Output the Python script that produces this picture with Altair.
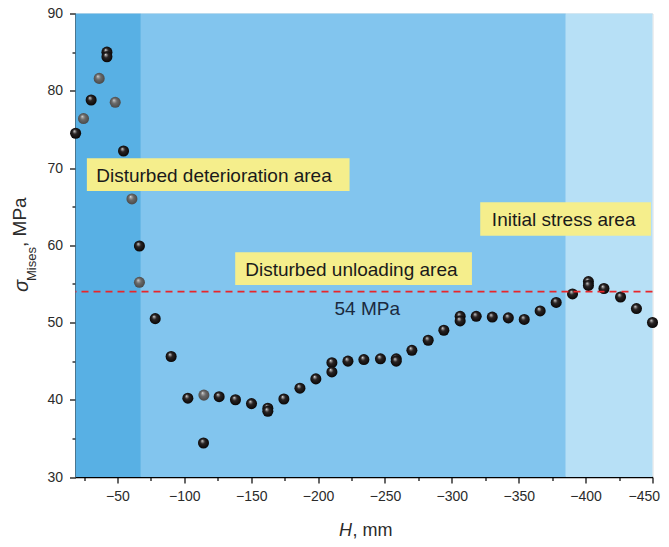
import altair as alt
import pandas as pd

# ---- data ----
H_mm = [-18.7, -24.6, -30.3, -36.3, -42.1, -42.1, -48.3, -54.5, -60.8, -66.4, -66.4,
        -78.2, -90.1, -102.6, -114.6, -114.3, -126.0, -138.2, -150.2, -162.4, -162.4,
        -174.4, -186.4, -198.3, -210.3, -210.3, -222.3, -234.2, -246.6, -258.4, -258.4,
        -270.1, -282.3, -294.0, -306.2, -306.2, -318.2, -330.2, -342.2, -354.1, -366.0,
        -378.0, -390.2, -402.1, -402.1, -413.7, -426.1, -438.0, -450.0]
sigma = [74.5, 76.4, 78.8, 81.6, 85.0, 84.4, 78.5, 72.2, 66.0, 59.9, 55.2,
         50.5, 45.6, 40.2, 40.6, 34.4, 40.4, 40.0, 39.5, 38.9, 38.5,
         40.1, 41.5, 42.7, 44.8, 43.6, 45.0, 45.2, 45.3, 45.3, 45.0,
         46.4, 47.7, 49.0, 50.8, 50.2, 50.8, 50.7, 50.6, 50.4, 51.5,
         52.6, 53.7, 55.3, 54.8, 54.4, 53.3, 51.8, 50.0]
shade = ["black", "gray", "black", "gray", "black", "black", "gray", "black", "gray", "black", "gray",
         "black", "black", "black", "gray", "black", "black", "black", "black", "black", "black",
         "black", "black", "black", "black", "black", "black", "black", "black", "black", "black",
         "black", "black", "black", "black", "black", "black", "black", "black", "black", "black",
         "black", "black", "black", "black", "black", "black", "black", "black"]

band_from = [-18.6, -67.5, -385.2]
band_to = [-67.5, -385.2, -450.0]
band_color = ["#58b0e4", "#82c5ee", "#b7e0f6"]

box_text = ["Disturbed deterioration area", "Disturbed unloading area", "Initial stress area"]
box_x1 = [-27.1, -138.0, -321.2]
box_x2 = [-223.5, -315.0, -448.8]
box_y1 = [71.26, 59.09, 65.56]
box_y2 = [67.02, 54.86, 61.24]
box_tx = [-34.1, -145.5, -329.9]
box_ty = [69.0, 56.85, 63.3]

ref_value = [54]
ref_text = ["54 MPa"]
ref_tx = [-236.7]
ref_ty = [51.03]

x_ticks = [-25 * i for i in range(1, 19)]
y_ticks = [30 + 5 * i for i in range(13)]

FONT = "Liberation Sans, Arial, Helvetica, sans-serif"

# ---- scales / axes ----
xscale = alt.Scale(domain=[-450, -18.6], reverse=True, nice=False, zero=False)
yscale = alt.Scale(domain=[30, 90], nice=False, zero=False)

xaxis = alt.Axis(values=x_ticks, title=None, grid=False,
                 labelExpr="datum.value % 50 === 0 ? datum.label : ''",
                 tickSize={"condition": {"test": "datum.value % 50 === 0", "value": 6}, "value": 3.5},
                 tickColor="black", tickWidth=1.2, domainColor="black", domainWidth=1.5,
                 labelFont=FONT, labelFontSize=14, labelColor="#2b2b2b", labelPadding=6,
                 labelFlush=True, labelFlushOffset=7, labelOverlap=False)
yaxis = alt.Axis(values=y_ticks, title=None, grid=False,
                 labelExpr="datum.value % 10 === 0 ? datum.label : ''",
                 tickSize={"condition": {"test": "datum.value % 10 === 0", "value": 6}, "value": 3.5},
                 tickColor="black", tickWidth=1.2, domainColor="black", domainWidth=1.5,
                 labelFont=FONT, labelFontSize=14, labelColor="#2b2b2b", labelPadding=7,
                 labelFlush=False, labelOverlap=False)


def X(f):
    return alt.X(f, type="quantitative", scale=xscale, axis=xaxis)


def Y(f):
    return alt.Y(f, type="quantitative", scale=yscale, axis=yaxis)


bands_df = pd.DataFrame({"a": band_from, "b": band_to, "c": band_color})
bands = alt.Chart(bands_df).mark_rect(opacity=1).encode(
    x=X("a"), x2="b", y=alt.value(0), y2=alt.value(463.5),
    color=alt.Color("c:N", scale=None))

pts_df = pd.DataFrame({"H": H_mm, "s": sigma, "shade": shade})


def ball(stops):
    return alt.RadialGradient(
        gradient="radial",
        stops=[alt.GradientStop(offset=o, color=c) for o, c in stops],
        x1=0.38, y1=0.3, r1=0.0, x2=0.5, y2=0.5, r2=0.55)


black_ball = ball([(0, "#f4f4f4"), (0.12, "#9c9a9a"), (0.38, "#2a2525"), (1, "#050303")])
gray_ball = ball([(0, "#f0f0f0"), (0.14, "#a8a8a8"), (0.42, "#6a6a6a"), (1, "#454545")])

pts_black = alt.Chart(pts_df).transform_filter("datum.shade == 'black'").mark_point(
    shape="circle", filled=True, fill=black_ball, size=122, opacity=1, strokeWidth=0
).encode(x=X("H"), y=Y("s"))
pts_gray = alt.Chart(pts_df).transform_filter("datum.shade == 'gray'").mark_point(
    shape="circle", filled=True, fill=gray_ball, size=122, opacity=1, strokeWidth=0
).encode(x=X("H"), y=Y("s"))

box_df = pd.DataFrame({"t": box_text, "x1": box_x1, "x2": box_x2, "y1": box_y1, "y2": box_y2,
                       "tx": box_tx, "ty": box_ty})
boxes = alt.Chart(box_df).mark_rect(color="#f5ee8c", opacity=1).encode(
    x=X("x1"), x2="x2", y=Y("y1"), y2="y2")
box_labels = alt.Chart(box_df).mark_text(
    align="left", baseline="middle", font=FONT, fontSize=19, color="#1a1a1a"
).encode(x=X("tx"), y=Y("ty"), text="t:N")

ref_df = pd.DataFrame({"v": ref_value, "t": ref_text, "tx": ref_tx, "ty": ref_ty})
ref_line = alt.Chart(ref_df).mark_rule(color="#e8262a", strokeDash=[7, 5], strokeWidth=1.6).encode(
    y=Y("v"))
ref_label = alt.Chart(ref_df).mark_text(
    align="center", baseline="alphabetic", font=FONT, fontSize=19, color="#1b2a40"
).encode(x=X("tx"), y=Y("ty"), text="t:N")

# axis titles composed of pieces (italic symbol, subscript)
one = pd.DataFrame({"k": [0]})
yt_sigma = alt.Chart(one).mark_text(text="σ", angle=270, align="left", baseline="alphabetic",
                                    font=FONT, fontSize=20, fontStyle="italic", color="#2b2b2b"
                                    ).encode(x=alt.value(-48), y=alt.value(278.5))
yt_sub = alt.Chart(one).mark_text(text="Mises", angle=270, align="left", baseline="alphabetic",
                                  font=FONT, fontSize=13, color="#2b2b2b"
                                  ).encode(x=alt.value(-40), y=alt.value(267.5))
yt_unit = alt.Chart(one).mark_text(text=", MPa", angle=270, align="left", baseline="alphabetic",
                                   font=FONT, fontSize=19, color="#2b2b2b"
                                   ).encode(x=alt.value(-50), y=alt.value(233.5))
xt_h = alt.Chart(one).mark_text(text="H", align="right", baseline="alphabetic",
                                font=FONT, fontSize=18, fontStyle="italic", color="#2b2b2b"
                                ).encode(x=alt.value(276.5), y=alt.value(522.5))
xt_unit = alt.Chart(one).mark_text(text=", mm", align="left", baseline="alphabetic",
                                   font=FONT, fontSize=18, color="#2b2b2b"
                                   ).encode(x=alt.value(277), y=alt.value(522.5))

chart = alt.layer(
    bands, boxes, pts_black, pts_gray, ref_line, box_labels, ref_label,
    yt_sigma, yt_sub, yt_unit, xt_h, xt_unit
).properties(
    width=577, height=463.5,
    autosize=alt.AutoSizeParams(type="none"),
    padding={"left": 67.5, "top": 5.5, "right": 8, "bottom": 62},
).configure_view(stroke="#444444", strokeWidth=1).configure(background="white")

chart.save("out.html", embed_options={"renderer": "svg", "actions": False})
